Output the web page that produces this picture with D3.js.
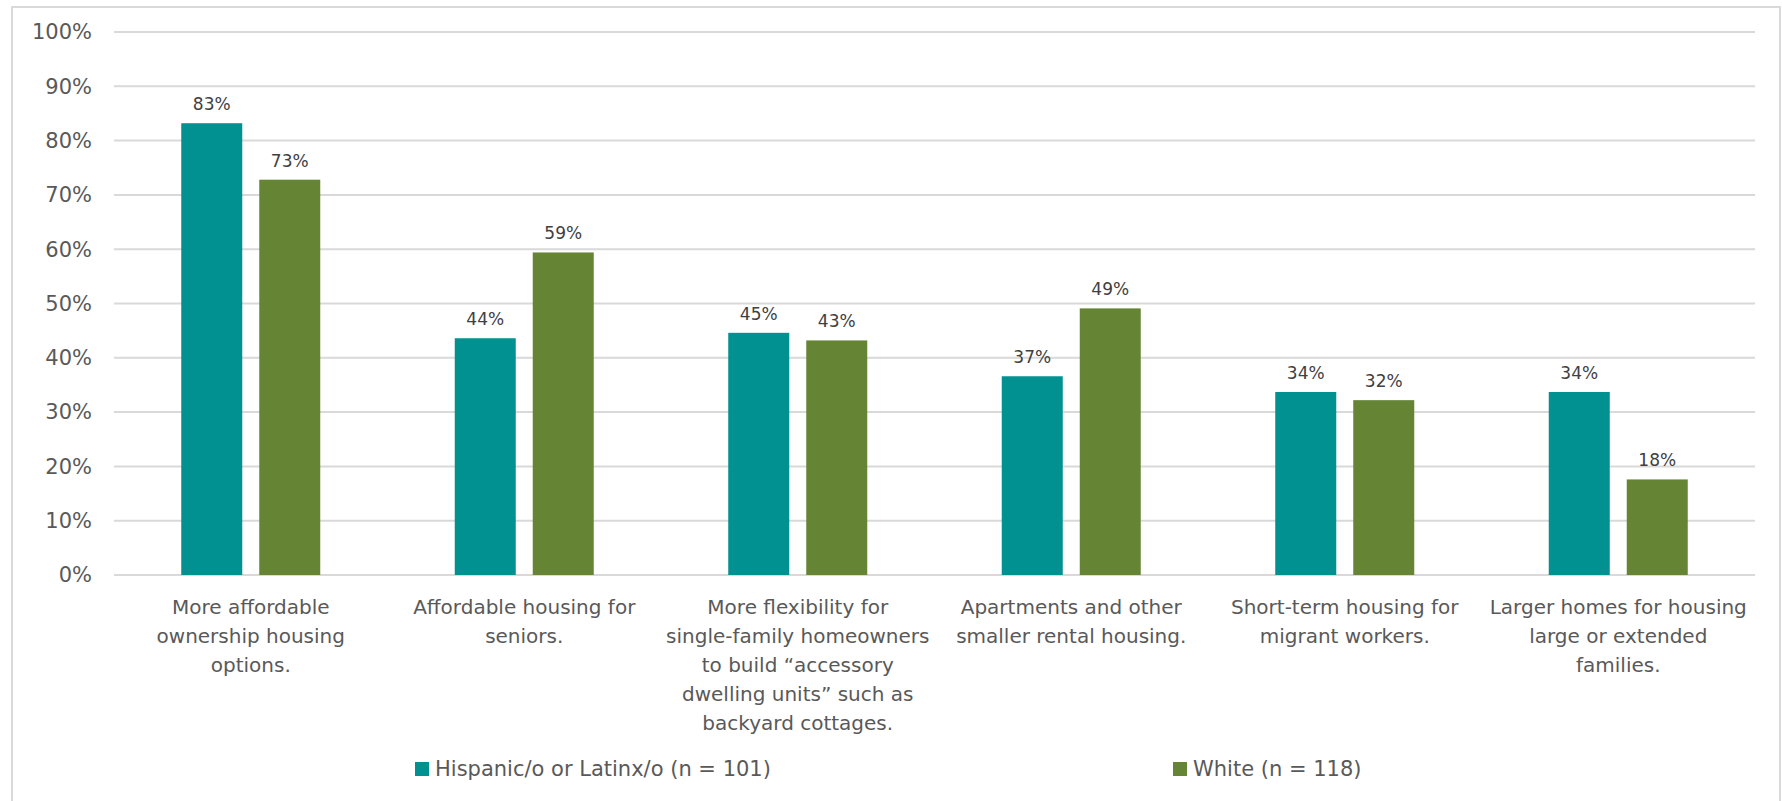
<!DOCTYPE html>
<html>
<head>
<meta charset="utf-8">
<script src="https://cdn.jsdelivr.net/npm/d3@7"></script>
<style>
  body { margin: 0; background: #fff; }
  svg text { font-family: "DejaVu Sans", sans-serif; }
</style>
</head>
<body>
<svg id="canvas"></svg>
<script>
var categories = [
  "More affordable\nownership housing\noptions.",
  "Affordable housing for\nseniors.",
  "More flexibility for\nsingle-family homeowners\nto build \u201caccessory\ndwelling units\u201d such as\nbackyard cottages.",
  "Apartments and other\nsmaller rental housing.",
  "Short-term housing for\nmigrant workers.",
  "Larger homes for housing\nlarge or extended\nfamilies."
];
var seriesNames = ["Hispanic/o or Latinx/o (n = 101)", "White (n = 118)"];
var hispanic = [0.832, 0.436, 0.446, 0.366, 0.337, 0.337];
var white = [0.728, 0.594, 0.432, 0.491, 0.322, 0.176];
var yTicks = [0, 0.1, 0.2, 0.3, 0.4, 0.5, 0.6, 0.7, 0.8, 0.9, 1];

var width = 1782, height = 801;
var colors = ["#009190", "#658535"];
var series = [hispanic, white];

var svg = d3.select('#canvas').attr('width', width).attr('height', height);

// outer chart border
svg.append('rect')
  .attr('x', 12).attr('y', 7)
  .attr('width', 1768).attr('height', 820)
  .attr('fill', 'none')
  .attr('stroke', '#d9d9d9')
  .attr('stroke-width', 2);

var x = d3.scaleBand().domain(categories).range([114, 1755]);
var y = d3.scaleLinear().domain([0, 1]).range([575, 32]);
var barW = 61, barGap = 17;

// gridlines
svg.append('g').selectAll('line')
  .data(yTicks)
  .enter().append('line')
  .attr('x1', 114).attr('x2', 1755)
  .attr('y1', function (d) { return y(d); })
  .attr('y2', function (d) { return y(d); })
  .attr('stroke', '#d9d9d9')
  .attr('stroke-width', 2);

// y axis labels
svg.append('g').selectAll('text')
  .data(yTicks)
  .enter().append('text')
  .attr('x', 92)
  .attr('y', function (d) { return y(d); })
  .attr('dy', '0.35em')
  .attr('text-anchor', 'end')
  .attr('fill', '#595959')
  .attr('font-size', 21)
  .text(function (d) { return d3.format('.0%')(d); });

// bars
series.forEach(function (vals, si) {
  var off = si == 0 ? -(barW + barGap) / 2 : (barW + barGap) / 2;
  var g = svg.append('g');
  g.selectAll('rect')
    .data(vals)
    .enter().append('rect')
    .attr('x', function (d, i) { return x(categories[i]) + x.bandwidth() / 2 + off - barW / 2; })
    .attr('y', function (d) { return y(d); })
    .attr('width', barW)
    .attr('height', function (d) { return y(0) - y(d); })
    .attr('fill', colors[si]);
  g.selectAll('text')
    .data(vals)
    .enter().append('text')
    .attr('x', function (d, i) { return x(categories[i]) + x.bandwidth() / 2 + off; })
    .attr('y', function (d) { return y(d) - 19; })
    .attr('dy', '0.35em')
    .attr('text-anchor', 'middle')
    .attr('fill', '#404040')
    .attr('font-size', 17)
    .text(function (d) { return d3.format('.0%')(d); });
});

// category labels
svg.append('g').selectAll('text')
  .data(categories)
  .enter().append('text')
  .attr('text-anchor', 'middle')
  .attr('fill', '#595959')
  .attr('font-size', 20)
  .each(function (d) {
    var t = d3.select(this);
    d.split('\n').forEach(function (line, i) {
      t.append('tspan')
        .attr('x', x(d) + x.bandwidth() / 2)
        .attr('y', 607 + i * 29)
        .attr('dy', '0.35em')
        .text(line);
    });
  });

// legend
var legendX = [415, 1173];
seriesNames.forEach(function (name, i) {
  svg.append('rect')
    .attr('x', legendX[i]).attr('y', 762)
    .attr('width', 14).attr('height', 14)
    .attr('fill', colors[i]);
  svg.append('text')
    .attr('x', legendX[i] + 20).attr('y', 769)
    .attr('dy', '0.35em')
    .attr('fill', '#595959')
    .attr('font-size', 21)
    .text(name);
});
</script>
</body>
</html>
